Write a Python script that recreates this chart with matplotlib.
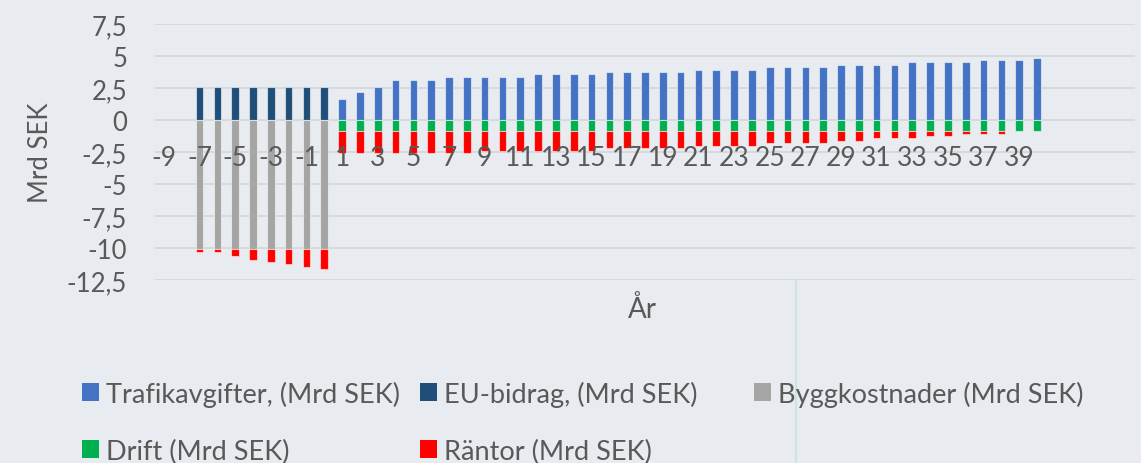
import matplotlib
matplotlib.use("Agg")
import matplotlib.pyplot as plt
import numpy as np
from matplotlib.patches import Patch
from matplotlib.lines import Line2D

# years -9 .. 40 (0 included), values in Mrd SEK
years = list(range(-9, 41))

trafikavgifter = [0]*10 + [1.62, 2.19, 2.58, 3.15, 3.15, 3.15,
                           3.36, 3.36, 3.36, 3.36, 3.36,
                           3.56, 3.56, 3.56, 3.56,
                           3.75, 3.75, 3.75, 3.75, 3.75,
                           3.94, 3.94, 3.94, 3.94,
                           4.13, 4.13, 4.13, 4.13,
                           4.33, 4.33, 4.33, 4.33,
                           4.50, 4.50, 4.50, 4.50,
                           4.69, 4.69, 4.69, 4.87]
eu_bidrag = [0, 0] + [2.6]*8 + [0]*40
byggkostnader = [0, 0] + [-10.1]*8 + [0]*40
drift = [0]*10 + [-0.85]*40
rantor = [0, 0, -0.2, -0.2, -0.55, -0.8, -1.0, -1.15, -1.35, -1.55] + \
         [-1.72]*8 + [-1.54]*7 + [-1.33]*5 + [-1.15]*4 + [-0.96]*4 + \
         [-0.76]*2 + [-0.55]*3 + [-0.37]*2 + [-0.21]*3 + [0, 0]

labels = ["Trafikavgifter, (Mrd SEK)", "EU-bidrag, (Mrd SEK)", "Byggkostnader (Mrd SEK)",
          "Drift (Mrd SEK)", "Räntor (Mrd SEK)"]
colors = ["#4472C4", "#1F4E79", "#A5A5A5", "#00B050", "#FF0000"]

bg = "#E8EBEF"
txt = "#595959"
plt.rcParams['font.family'] = ['Lato', 'DejaVu Sans']

fig = plt.figure(figsize=(11.41, 4.64), dpi=100, facecolor=bg)
ax = fig.add_axes([155/1141, 1-281/464, 980/1141, 256/464])
ax.set_facecolor(bg)

x = np.arange(len(years))
def nz(v):
	v = np.array(v, dtype=float)
	return np.where(v != 0, v, np.nan)

w = 0.43
ec = (1, 1, 1, 0.55)
bygg = np.array(byggkostnader)
dr = np.array(drift)
ax.bar(x, nz(trafikavgifter), w, color=colors[0], edgecolor=ec, lw=0.8)
ax.bar(x, nz(eu_bidrag), w, color=colors[1], edgecolor=ec, lw=0.8)
ax.bar(x, nz(byggkostnader), w, color=colors[2], edgecolor=ec, lw=0.8)
ax.bar(x, nz(drift), w, bottom=bygg, color=colors[3], edgecolor=ec, lw=0.8)
ax.bar(x, nz(rantor), w, bottom=bygg+dr, color=colors[4], edgecolor=ec, lw=0.8)

ax.set_xlim(-0.5, 54.5)
ax.set_ylim(-12.5, 7.5)
yt = np.arange(-12.5, 7.6, 2.5)
ax.set_yticks(yt)
ax.set_yticklabels([("%g" % v).replace(".", ",") for v in yt])
ax.yaxis.grid(True, color="#D5D8DB", lw=1.3)
ax.set_axisbelow(True)
ax.xaxis.set_zorder(3)	# category labels are drawn over the bars

tick_idx = [i for i, y in enumerate(years) if y % 2 != 0]
ax.set_xticks(tick_idx)
ax.set_xticklabels([str(years[i]) for i in tick_idx])
for s in ax.spines.values():
	s.set_visible(False)
ax.spines['bottom'].set_position(('data', 0))
ax.tick_params(axis='x', length=0, pad=27, labelsize=19, labelcolor=txt)
ax.tick_params(axis='y', length=0, pad=20, labelsize=18.5, labelcolor=txt)
for t in ax.get_xticklabels():
	t.set_va('center')

ax.text(-0.117, 0.5, "Mrd SEK", transform=ax.transAxes, rotation=90,
	ha='center', va='center', fontsize=18.5, color=txt)
ax.text(0.497, -0.11, "År", transform=ax.transAxes, ha='center', va='center',
	fontsize=20, color=txt)

# legend, laid out like the original (3 columns, row-wise)
pos = [(82, 394.5), (420, 394.5), (754, 394.5), (82, 452), (420, 452)]
for (px, py), lab, c in zip(pos, labels, colors):
	fig.legend([Patch(facecolor=c, edgecolor='none')], [lab], loc='center left',
		bbox_to_anchor=(px/1141, 1-py/464), frameon=False, borderpad=0,
		borderaxespad=0, handlelength=0.62, handleheight=0.62,
		handletextpad=0.25, fontsize=19.5, labelcolor=txt)

fig.add_artist(Line2D([795.7/1141]*2, [0, 1-282/464], transform=fig.transFigure,
	color="#CDE4E1", lw=1.5))

fig.savefig("out.png", dpi=100, facecolor=bg)
